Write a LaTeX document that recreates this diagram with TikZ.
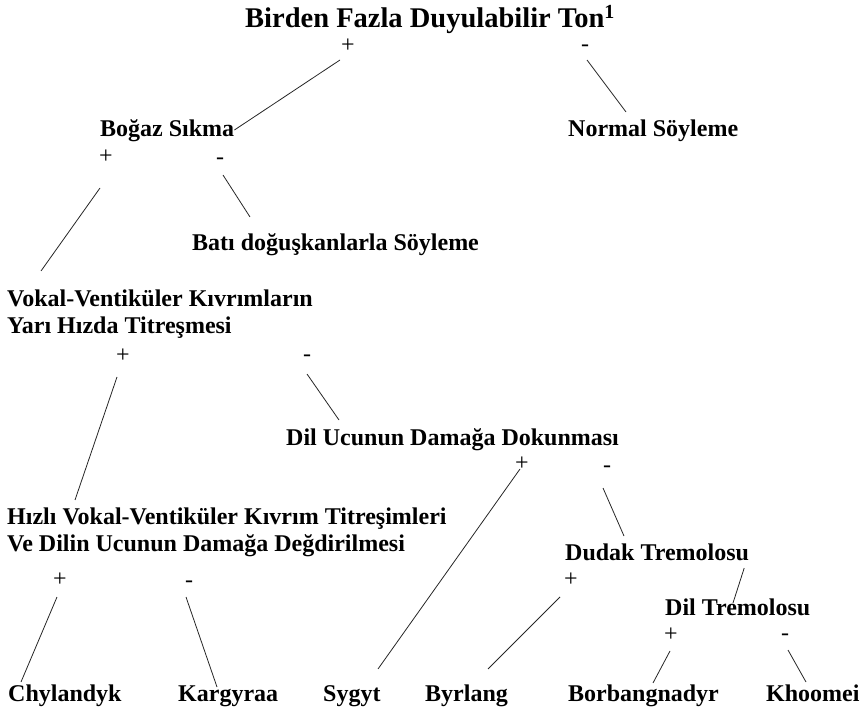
\documentclass[tikz,border=0pt]{standalone}
\usepackage{fontspec}
\setmainfont{Liberation Serif}
\begin{document}
\begin{tikzpicture}[x=1pt,y=-1pt]

\tikzstyle{tt} = [inner sep=0, anchor=base west, font=\fontsize{28.5}{32}\selectfont\bfseries]
\tikzstyle{t} = [inner sep=0, anchor=base west, align=left, font=\fontsize{24}{27}\selectfont\bfseries]
\tikzstyle{s} = [inner sep=0, anchor=base, font=\fontsize{24}{27}\selectfont]
\tikzstyle{l} = [draw=black!85, line width=0.8pt]

\useasboundingbox (0,0) rectangle (863,711);

% labels
\node[tt] (ton) at (245,28) {Birden Fazla Duyulabilir Ton\textsuperscript{1}};
\node[t] (bogaz) at (100,137) {Boğaz Sıkma};
\node[t] (normal) at (568,137) {Normal Söyleme};
\node[t] (bati) at (192,251) {Batı doğuşkanlarla Söyleme};
\node[t] (vokal) at (7,334) {Vokal-Ventiküler Kıvrımların\\Yarı Hızda Titreşmesi};
\node[t] (dilucu) at (286,446) {Dil Ucunun Damağa Dokunması};
\node[t] (hizli) at (7,551) {Hızlı Vokal-Ventiküler Kıvrım Titreşimleri\\Ve Dilin Ucunun Damağa Değdirilmesi};
\node[t] (dudak) at (565,560) {Dudak Tremolosu};
\node[t] (diltrem) at (665,615) {Dil Tremolosu};
\node[t] (chy) at (8,701) {Chylandyk};
\node[t] (karg) at (178,701) {Kargyraa};
\node[t] (syg) at (323,701) {Sygyt};
\node[t] (byr) at (425,701) {Byrlang};
\node[t] (borb) at (568,701) {Borbangnadyr};
\node[t] (khoo) at (766,701) {Khoomei};

% signs
\node[s] (p0) at (348,53) {+};
\node[s] (m0) at (585,52) {-};
\node[s] (p1) at (106,164) {+};
\node[s] (m1) at (220,165) {-};
\node[s] (p2) at (123,363) {+};
\node[s] (m2) at (307,362) {-};
\node[s] (p3) at (522,471) {+};
\node[s] (m3) at (607,472) {-};
\node[s] (p4) at (60,586) {+};
\node[s] (m4) at (189,587) {-};
\node[s] (p5) at (571,586) {+};
\node[s] (p6) at (671,641) {+};
\node[s] (m6) at (785,640) {-};

% branches
\draw[l] ([shift={(-8,7)}]p0.base) -- ([shift={(0,-7)}]bogaz.base east);
\draw[l] ([shift={(2,8)}]m0.base) -- ([shift={(58,-25)}]normal.base west);
\draw[l] ([shift={(-6,24)}]p1.base) -- ([shift={(34,-63)}]vokal.base west);
\draw[l] ([shift={(3,10)}]m1.base) -- ([shift={(58,-34)}]bati.base west);
\draw[l] ([shift={(-6,14)}]p2.base) -- ([shift={(68,-51)}]hizli.base west);
\draw[l] ([shift={(0,12)}]m2.base) -- ([shift={(53,-26)}]dilucu.base west);
\draw[l] ([shift={(-2,-2)}]p3.base) -- ([shift={(55,-32)}]syg.base west);
\draw[l] ([shift={(-4,16)}]m3.base) -- ([shift={(59,-24)}]dudak.base west);
\draw[l] ([shift={(-3,11)}]p4.base) -- ([shift={(13,-19)}]chy.base west);
\draw[l] ([shift={(-3,10)}]m4.base) -- ([shift={(39,-14)}]karg.base west);
\draw[l] ([shift={(-11,11)}]p5.base) -- ([shift={(63,-32)}]byr.base west);
\draw[l] ([shift={(-5,8)}]dudak.base east) -- ([shift={(68,-12)}]diltrem.base west);
\draw[l] ([shift={(-1,10)}]p6.base) -- ([shift={(85,-18)}]borb.base west);
\draw[l] ([shift={(3,10)}]m6.base) -- ([shift={(40,-19)}]khoo.base west);

\end{tikzpicture}
\end{document}
